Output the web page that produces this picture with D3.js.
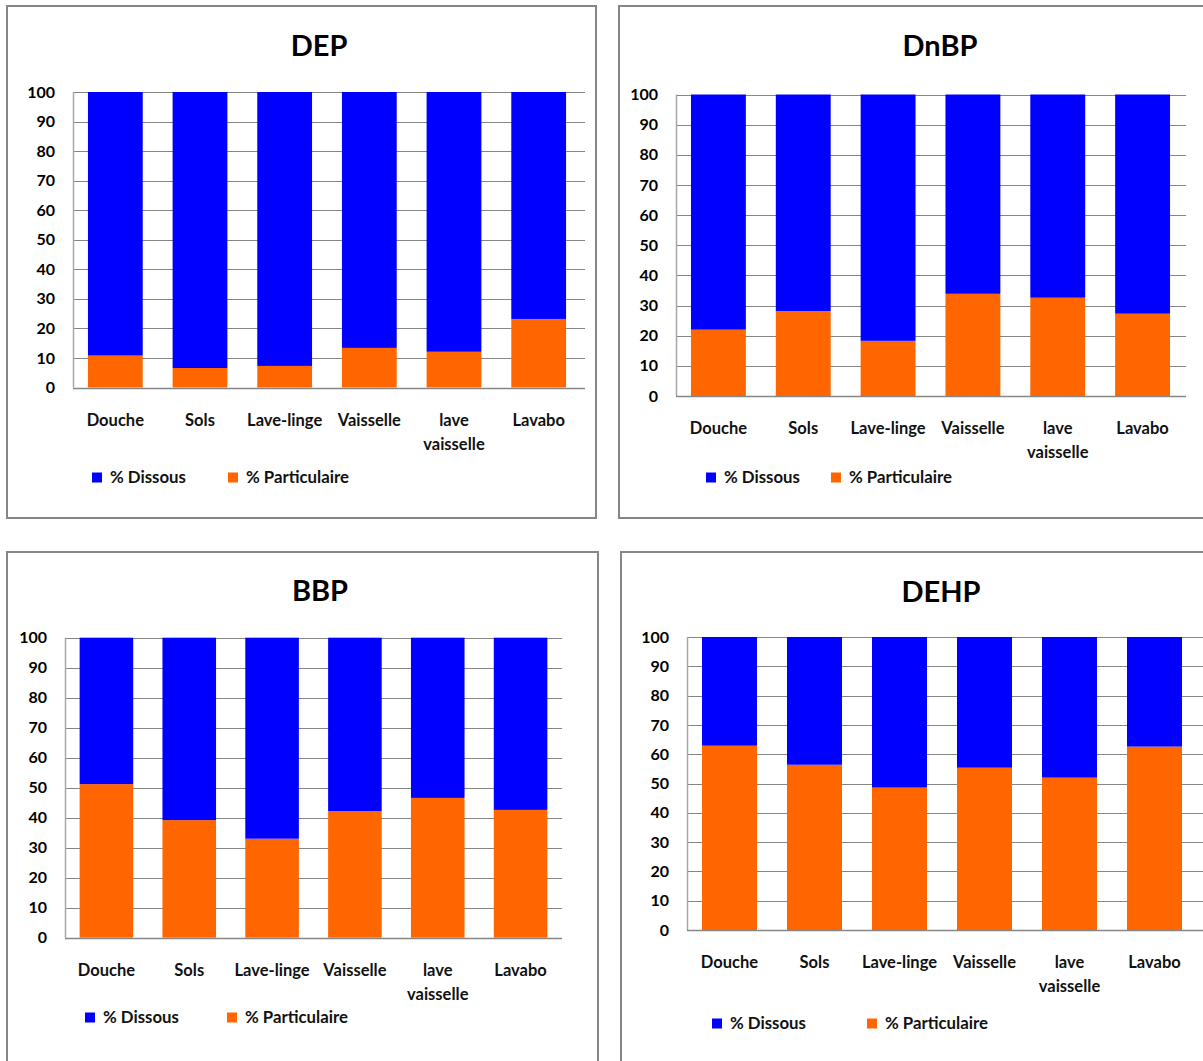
<!DOCTYPE html>
<html>
<head>
<meta charset="utf-8">
<script src="https://cdn.jsdelivr.net/npm/d3@7"></script>
<style>
  html, body { margin: 0; padding: 0; background: #ffffff; }
  svg { display: block; font-family: Lato, "Noto Sans", sans-serif; }
</style>
</head>
<body>
<svg id="chart" width="1203" height="1061"></svg>
<script>
// ---- Data ----
const categories = ["Douche", "Sols", "Lave-linge", "Vaisselle", "lave vaisselle", "Lavabo"];
const seriesNames = ["% Dissous", "% Particulaire"];
const tickValues = [0, 10, 20, 30, 40, 50, 60, 70, 80, 90, 100];

const depParticulaire  = [10.8, 6.6, 7.3, 13.4, 12.1, 23.2];
const depDissous       = [89.2, 93.4, 92.7, 86.6, 87.9, 76.8];

const dnbpParticulaire = [22.0, 28.2, 18.3, 33.9, 32.6, 27.3];
const dnbpDissous      = [78.0, 71.8, 81.7, 66.1, 67.4, 72.7];

const bbpParticulaire  = [51.2, 39.2, 33.0, 42.2, 46.6, 42.6];
const bbpDissous       = [48.8, 60.8, 67.0, 57.8, 53.4, 57.4];

const dehpParticulaire = [62.9, 56.4, 48.6, 55.4, 52.0, 62.6];
const dehpDissous      = [37.1, 43.6, 51.4, 44.6, 48.0, 37.4];

const titles = ["DEP", "DnBP", "BBP", "DEHP"];

// ---- Layout (positions / styles) ----
const colors = { "% Dissous": "#0000ff", "% Particulaire": "#ff6600" };

const panels = [
  { title: titles[0], part: depParticulaire, diss: depDissous,
    border: [7, 6, 589, 512], x0: 73, x1: 581, gridEnd: 585, yTop: 92, yBot: 387.5,
    titleX: 319, titleY: 56, labelDy: 38.5, legY: 477.5, legX: [92, 228] },
  { title: titles[1], part: dnbpParticulaire, diss: dnbpDissous,
    border: [619, 6, 620, 512], x0: 676, x1: 1185, gridEnd: 1186, yTop: 94.5, yBot: 396,
    titleX: 940, titleY: 56, labelDy: 38, legY: 477.5, legX: [706, 831] },
  { title: titles[2], part: bbpParticulaire, diss: bbpDissous,
    border: [7, 552, 591, 540], x0: 65, x1: 562, gridEnd: 562, yTop: 637.7, yBot: 937.7,
    titleX: 320, titleY: 601, labelDy: 38, legY: 1017.5, legX: [85, 227] },
  { title: titles[3], part: dehpParticulaire, diss: dehpDissous,
    border: [621, 552, 620, 540], x0: 687, x1: 1197, gridEnd: 1203, yTop: 637, yBot: 930,
    titleX: 941, titleY: 602, labelDy: 38, legY: 1023.5, legX: [712, 867] }
];

const svg = d3.select("#chart");
svg.append("rect").attr("width", 1203).attr("height", 1061).attr("fill", "#ffffff");

panels.forEach(p => {
  const g = svg.append("g");

  // border
  g.append("rect")
    .attr("x", p.border[0]).attr("y", p.border[1])
    .attr("width", p.border[2]).attr("height", p.border[3])
    .attr("fill", "#ffffff").attr("stroke", "#868686").attr("stroke-width", 2);

  // title
  g.append("text")
    .attr("x", p.titleX).attr("y", p.titleY)
    .attr("text-anchor", "middle")
    .attr("font-size", 29).attr("font-weight", 700).attr("fill", "#000")
    .text(p.title);

  const x = d3.scaleBand().domain(categories).range([p.x0, p.x1])
    .paddingInner(0.353).paddingOuter(0.1765);
  const y = d3.scaleLinear().domain([0, 100]).range([p.yBot, p.yTop]);

  // gridlines
  g.append("g").selectAll("line").data(tickValues.filter(v => v > 0)).join("line")
    .attr("x1", p.x0).attr("x2", p.gridEnd)
    .attr("y1", d => Math.round(y(d)) + 0.5).attr("y2", d => Math.round(y(d)) + 0.5)
    .attr("stroke", "#868686").attr("stroke-width", 1);

  // stacked bars
  const rows = categories.map((c, i) => ({ cat: c, "% Particulaire": p.part[i], "% Dissous": p.diss[i] }));
  const stack = d3.stack().keys(["% Particulaire", "% Dissous"])(rows);
  g.append("g").selectAll("g").data(stack).join("g")
    .attr("fill", d => colors[d.key])
    .selectAll("rect").data(d => d).join("rect")
      .attr("x", d => x(d.data.cat))
      .attr("width", x.bandwidth())
      .attr("y", d => y(d[1]))
      .attr("height", d => y(d[0]) - y(d[1]));

  // axes lines
  g.append("line").attr("x1", p.x0 + 0.5).attr("x2", p.x0 + 0.5)
    .attr("y1", p.yTop).attr("y2", p.yBot)
    .attr("stroke", "#a6a6a6").attr("stroke-width", 1.5);
  g.append("line").attr("x1", p.x0).attr("x2", p.gridEnd)
    .attr("y1", Math.round(p.yBot) + 0.5).attr("y2", Math.round(p.yBot) + 0.5)
    .attr("stroke", "#868686").attr("stroke-width", 1.5);

  // y tick labels
  const yAxis = d3.axisLeft(y).tickValues(tickValues).tickSize(0).tickPadding(18);
  const ya = g.append("g").attr("transform", `translate(${p.x0},0)`).call(yAxis);
  ya.select(".domain").remove();
  ya.selectAll("text").attr("font-family", "Lato, 'Noto Sans', sans-serif")
    .attr("font-size", 16).attr("font-weight", 700).attr("fill", "#000");

  // x category labels (wrapped on spaces)
  const xl = g.append("g");
  categories.forEach(c => {
    const t = xl.append("text")
      .attr("x", x(c) + x.bandwidth() / 2)
      .attr("y", p.yBot + p.labelDy)
      .attr("text-anchor", "middle")
      .attr("font-size", 16.5).attr("font-weight", 700).attr("fill", "#111");
    c.split(" ").forEach((w, k) => {
      t.append("tspan").attr("x", x(c) + x.bandwidth() / 2).attr("dy", k === 0 ? 0 : 24).text(w);
    });
  });

  // legend
  seriesNames.forEach((s, k) => {
    g.append("rect").attr("x", p.legX[k]).attr("y", p.legY - 5)
      .attr("width", 10).attr("height", 10).attr("fill", colors[s]);
    g.append("text").attr("x", p.legX[k] + 18).attr("y", p.legY)
      .attr("dy", "0.35em").attr("font-size", 16.8).attr("font-weight", 700)
      .attr("fill", "#111").text(s);
  });
});
</script>
</body>
</html>
